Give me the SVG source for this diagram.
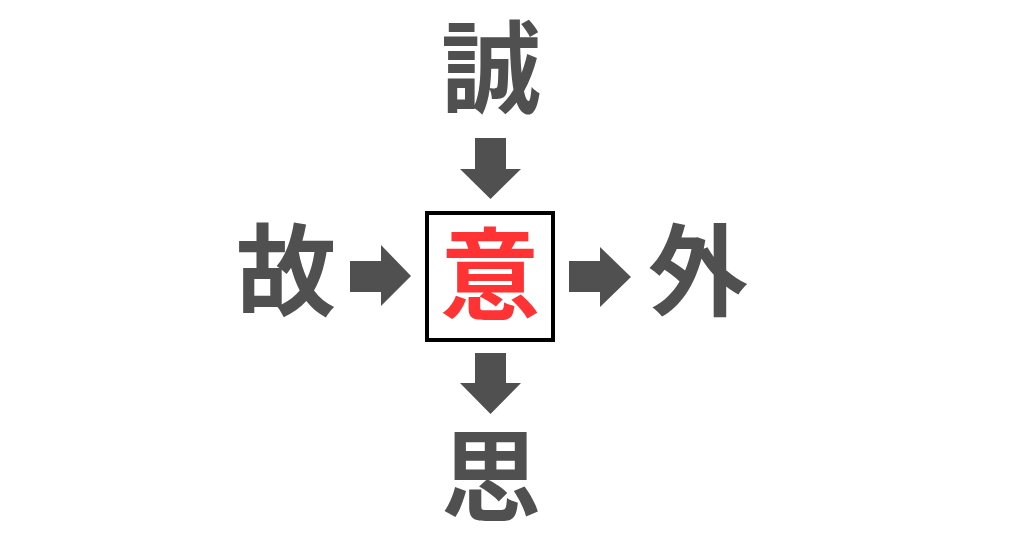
<svg xmlns="http://www.w3.org/2000/svg" width="1024" height="538" viewBox="0 0 1024 538">
<style>
.k{font-family:"Noto Sans CJK JP","Noto Sans CJK SC",sans-serif;font-weight:700;font-size:100px;text-anchor:middle;fill:#505050}
.r{fill:#FF3333}
.a{fill:#505050}
</style>
<rect width="1024" height="538" fill="#fff"/>
<g id="top"><text class="k" x="491" y="105">誠</text></g>
<g id="left"><text class="k" x="286" y="308">故</text></g>
<g id="center"><rect x="427" y="213" width="126" height="127" fill="#fff" stroke="#000" stroke-width="4"/><text class="k r" x="490" y="312">意</text></g>
<g id="right"><text class="k" x="698" y="308">外</text></g>
<g id="bottom"><text class="k" x="491" y="513">思</text></g>
<g id="connectors">
<polygon class="a" points="475,138 506,138 506,169 521,169 490.5,199 460,169 475,169"/>
<polygon class="a" points="475,353 506,353 506,383 521,383 490.5,414 460,383 475,383"/>
<polygon class="a" points="350,261 381,261 381,245 411,276 381,306 381,292 350,292"/>
<polygon class="a" points="569,261 600,261 600,247 631,277 600,307 600,292 569,292"/>
</g>
</svg>
